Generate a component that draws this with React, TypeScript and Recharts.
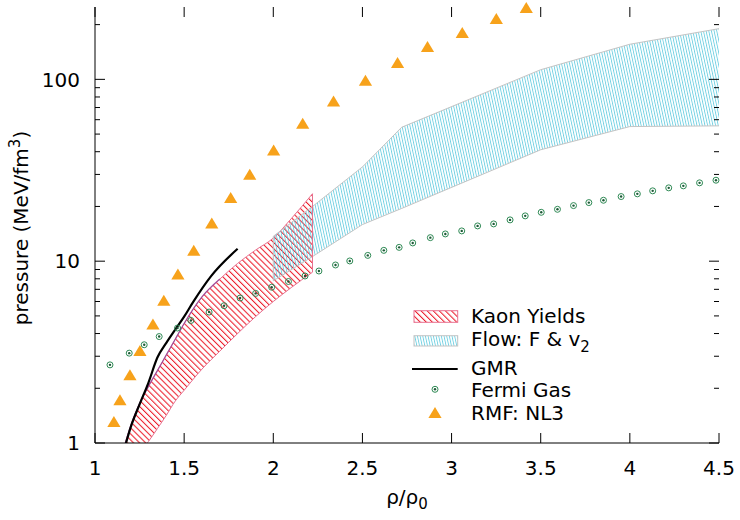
import React from 'react';
import { ComposedChart, Area, Line, Scatter, XAxis, YAxis, Legend, ReferenceLine } from 'recharts';

if (typeof document !== 'undefined') {
  document.body.style.margin = '0';
}

const FONT = '"DejaVu Sans", Verdana, sans-serif';

// Kaon yields band (rho/rho0, pressure MeV/fm^3)
const kaonRho = [1.17, 1.2, 1.25, 1.3, 1.35, 1.4, 1.45, 1.5, 1.6, 1.7, 1.8, 1.9, 2.0, 2.1, 2.22];
const kaonLow = [0.7, 0.76, 0.88, 1.02, 1.2, 1.42, 1.7, 1.95, 2.55, 3.2, 4.0, 4.95, 6.0, 7.15, 8.7];
const kaonHigh = [1.0, 1.24, 1.65, 2.05, 2.5, 3.05, 3.72, 4.54, 6.36, 7.97, 9.72, 11.5, 13.4, 17.1, 23.5];

// Flow band
const flowRho = [2.0, 2.22, 2.5, 2.72, 3.5, 4.0, 4.5];
const flowLow = [7.8, 10.6, 15.9, 19.5, 41, 55, 55.5];
const flowHigh = [13.7, 20.0, 33, 54.5, 113, 156, 190];

// GMR curve
const gmrRho = [1.17, 1.2, 1.25, 1.3, 1.35, 1.4, 1.45, 1.5, 1.55, 1.65, 1.8];
const gmrP = [0.97, 1.22, 1.63, 2.15, 2.95, 3.55, 4.2, 4.95, 5.95, 8.25, 11.7];

// Fermi gas points
const fermiRho = [1.084, 1.192, 1.276, 1.36, 1.463, 1.538, 1.64, 1.724, 1.814, 1.901, 1.991, 2.085, 2.178, 2.256, 2.349, 2.429, 2.53, 2.62, 2.706, 2.782, 2.881, 2.965, 3.057, 3.146, 3.236, 3.328, 3.413, 3.503, 3.594, 3.684, 3.77, 3.852, 3.951, 4.042, 4.128, 4.218, 4.3, 4.391, 4.483];
const fermiP = [2.69, 3.12, 3.47, 3.85, 4.29, 4.72, 5.25, 5.69, 6.27, 6.65, 7.19, 7.73, 8.29, 8.83, 9.53, 10.03, 10.76, 11.47, 11.91, 12.6, 13.47, 14.12, 14.67, 15.63, 16.03, 16.87, 17.75, 18.57, 19.29, 20.22, 21.0, 21.63, 22.67, 23.46, 24.37, 25.31, 25.96, 26.97, 27.88];

// RMF: NL3 points
const rmfRho = [1.106, 1.14, 1.196, 1.252, 1.325, 1.386, 1.465, 1.554, 1.655, 1.761, 1.868, 2.002, 2.165, 2.338, 2.517, 2.697, 2.865, 3.06, 3.251, 3.419];
const rmfP = [1.31, 1.725, 2.37, 3.22, 4.51, 6.08, 8.5, 11.47, 16.2, 22.4, 30.0, 40.8, 57.2, 75.9, 98.7, 123.6, 151.4, 180.9, 215.9, 248];

// Axis ticks
const xTicks = [1, 1.5, 2, 2.5, 3, 3.5, 4, 4.5];
const yTicks = [1, 2, 3, 4, 5, 6, 7, 8, 9, 10, 20, 30, 40, 50, 60, 70, 80, 90, 100, 200];
const yMajor = [1, 10, 100];

const kaonData = kaonRho.map((r, i) => ({ rho: r, range: [kaonLow[i], kaonHigh[i]] }));
const kaonEdgeData = kaonRho.slice(0, 10).map((r, i) => ({ rho: r, p: kaonHigh[i] }));
const flowData = flowRho.map((r, i) => ({ rho: r, range: [flowLow[i], flowHigh[i]] }));
const gmrData = gmrRho.map((r, i) => ({ rho: r, p: gmrP[i] }));
const fermiData = fermiRho.map((r, i) => ({ rho: r, p: fermiP[i] }));
const rmfData = rmfRho.map((r, i) => ({ rho: r, p: rmfP[i] }));

const W = 740;
const H = 520;
const PL = 95;
const PR = 719;
const PT = 7;
const PB = 443;

const KAON_RED = '#ec1c2a';
const KAON_EDGE = '#e8708f';
const FLOW_CYAN = '#45c2da';
const FLOW_EDGE = '#c4c4c4';
const ORANGE = '#f7a21b';

const YTick = (props: any) => {
  const { y, payload } = props;
  const v = payload.value;
  const major = yMajor.includes(v);
  const len = major ? 10 : 5;
  return (
    <g>
      <line x1={PL} x2={PL + len} y1={y} y2={y} stroke="#000" strokeWidth={1} />
      <line x1={PR - len} x2={PR} y1={y} y2={y} stroke="#000" strokeWidth={1} />
      {major && (
        <text x={80} y={y + 7.3} textAnchor="end" fontFamily={FONT} fontSize={20} fill="#000">
          {v}
        </text>
      )}
    </g>
  );
};

const XTick = (props: any) => {
  const { x, payload } = props;
  return (
    <g>
      <line x1={x} x2={x} y1={PB} y2={PB - 10} stroke="#000" strokeWidth={1} />
      <line x1={x} x2={x} y1={PT} y2={PT + 10} stroke="#000" strokeWidth={1} />
      <text x={x} y={475} textAnchor="middle" fontFamily={FONT} fontSize={20} fill="#000">
        {payload.value}
      </text>
    </g>
  );
};

const renderYLabel = () => (
  <text transform="translate(28, 228) rotate(-90)" textAnchor="middle" fontFamily={FONT} fontSize={20} fill="#000">
    pressure (MeV/fm<tspan dy={-8} fontSize={15}>3</tspan>
    <tspan dy={8}>)</tspan>
  </text>
);

const renderXLabel = () => (
  <text x={407} y={504} textAnchor="middle" fontFamily={FONT} fontSize={20} fill="#000">
    ρ/ρ<tspan dy={5} fontSize={15}>0</tspan>
  </text>
);

const FermiDot = (p: any) => (
  <g>
    <circle cx={p.cx} cy={p.cy} r={3} fill="none" stroke="#2f8a55" strokeWidth={1} />
    <circle cx={p.cx} cy={p.cy} r={1.2} fill="#1d5a37" />
  </g>
);

const Tri = (p: any) => (
  <polygon
    points={`${p.cx},${p.cy - 5.6} ${p.cx - 6.6},${p.cy + 5.4} ${p.cx + 6.6},${p.cy + 5.4}`}
    fill={ORANGE}
  />
);

const legendItems = ['Kaon Yields', 'Flow: F & v', 'GMR', 'Fermi Gas', 'RMF: NL3'];

const renderLegend = () => (
  <svg width={W} height={H} style={{ position: 'absolute', left: 0, top: 0 }}>
    <rect x={414} y={310.7} width={43.7} height={11.6} fill="url(#kaonHatch)" stroke={KAON_EDGE} strokeWidth={1} />
    <rect x={414} y={335.7} width={43.7} height={10.3} fill="url(#flowHatch)" stroke={FLOW_EDGE} strokeWidth={1} />
    <line x1={412} x2={457.7} y1={369} y2={369} stroke="#000" strokeWidth={2.2} />
    <FermiDot cx={435} cy={389.3} />
    <Tri cx={435} cy={412.7} />
    <g fontFamily={FONT} fontSize={20} fill="#000">
      <text x={471} y={323}>{legendItems[0]}</text>
      <text x={471} y={346}>
        {legendItems[1]}
        <tspan dy={6} fontSize={15}>2</tspan>
      </text>
      <text x={471} y={374.7}>{legendItems[2]}</text>
      <text x={471} y={396.7}>{legendItems[3]}</text>
      <text x={471} y={420}>{legendItems[4]}</text>
    </g>
  </svg>
);

export default function App() {
  return (
    <div style={{ width: W, height: H, overflow: 'hidden', background: '#fff', position: 'relative' }}>
      <ComposedChart width={W} height={H} margin={{ top: PT, right: W - PR, bottom: 0, left: 0 }}>
        <defs>
          <pattern id="kaonHatch" patternUnits="userSpaceOnUse" width={4.3} height={10} patternTransform="rotate(-45)">
            <line x1={0.5} y1={0} x2={0.5} y2={10} stroke={KAON_RED} strokeWidth={1.1} />
          </pattern>
          <pattern id="flowHatch" patternUnits="userSpaceOnUse" width={2.6} height={10} patternTransform="rotate(-12)">
            <line x1={0.5} y1={0} x2={0.5} y2={10} stroke={FLOW_CYAN} strokeWidth={0.75} />
          </pattern>
        </defs>
        <XAxis
          xAxisId={0}
          dataKey="rho"
          type="number"
          domain={[1, 4.5]}
          ticks={xTicks}
          interval={0}
          height={H - PB}
          orientation="bottom"
          axisLine={{ stroke: '#000', strokeWidth: 1 }}
          tickLine={false}
          tick={<XTick />}
          label={renderXLabel}
        />
        <XAxis
          xAxisId="top"
          dataKey="rho"
          type="number"
          domain={[1, 4.5]}
          orientation="top"
          height={0}
          tick={false}
          tickLine={false}
          axisLine={{ stroke: '#000', strokeWidth: 1 }}
        />
        <YAxis
          yAxisId={0}
          type="number"
          scale="log"
          domain={[1, 250]}
          allowDataOverflow
          ticks={yTicks}
          interval={0}
          width={PL}
          axisLine={{ stroke: '#000', strokeWidth: 1 }}
          tickLine={false}
          tick={<YTick />}
          label={renderYLabel}
        />
        <YAxis
          yAxisId="r"
          type="number"
          scale="log"
          domain={[1, 250]}
          orientation="right"
          width={0}
          tick={false}
          tickLine={false}
          axisLine={{ stroke: '#000', strokeWidth: 1 }}
        />
        <Area
          data={kaonData}
          dataKey="range"
          type="monotone"
          fill="url(#kaonHatch)"
          fillOpacity={1}
          stroke={KAON_EDGE}
          strokeWidth={1}
          isAnimationActive={false}
        />
        <Area
          data={flowData}
          dataKey="range"
          type="linear"
          fill="url(#flowHatch)"
          fillOpacity={1}
          stroke={FLOW_EDGE}
          strokeWidth={1}
          isAnimationActive={false}
        />
        <ReferenceLine
          segment={[
            { x: kaonRho[kaonRho.length - 1], y: kaonLow[kaonLow.length - 1] },
            { x: kaonRho[kaonRho.length - 1], y: kaonHigh[kaonHigh.length - 1] },
          ]}
          stroke={KAON_EDGE}
          strokeWidth={1}
        />
        <ReferenceLine
          segment={[
            { x: flowRho[0], y: flowLow[0] },
            { x: flowRho[0], y: flowHigh[0] },
          ]}
          stroke={FLOW_EDGE}
          strokeWidth={1}
        />
        <Line
          data={kaonEdgeData}
          dataKey="p"
          type="monotone"
          stroke="#8b3a96"
          strokeWidth={1.3}
          strokeOpacity={0.75}
          dot={false}
          isAnimationActive={false}
          legendType="none"
        />
        <Line
          data={gmrData}
          dataKey="p"
          type="monotone"
          stroke="#000"
          strokeWidth={2.2}
          dot={false}
          isAnimationActive={false}
        />
        <Scatter data={fermiData} dataKey="p" shape={<FermiDot />} isAnimationActive={false} />
        <Scatter data={rmfData} dataKey="p" yAxisId="r" shape={<Tri />} isAnimationActive={false} />
        <Legend
          layout="vertical"
          align="center"
          verticalAlign="middle"
          content={renderLegend}
          wrapperStyle={{ position: 'absolute', left: 0, top: 0, width: W, height: H, pointerEvents: 'none' }}
        />
      </ComposedChart>
    </div>
  );
}
